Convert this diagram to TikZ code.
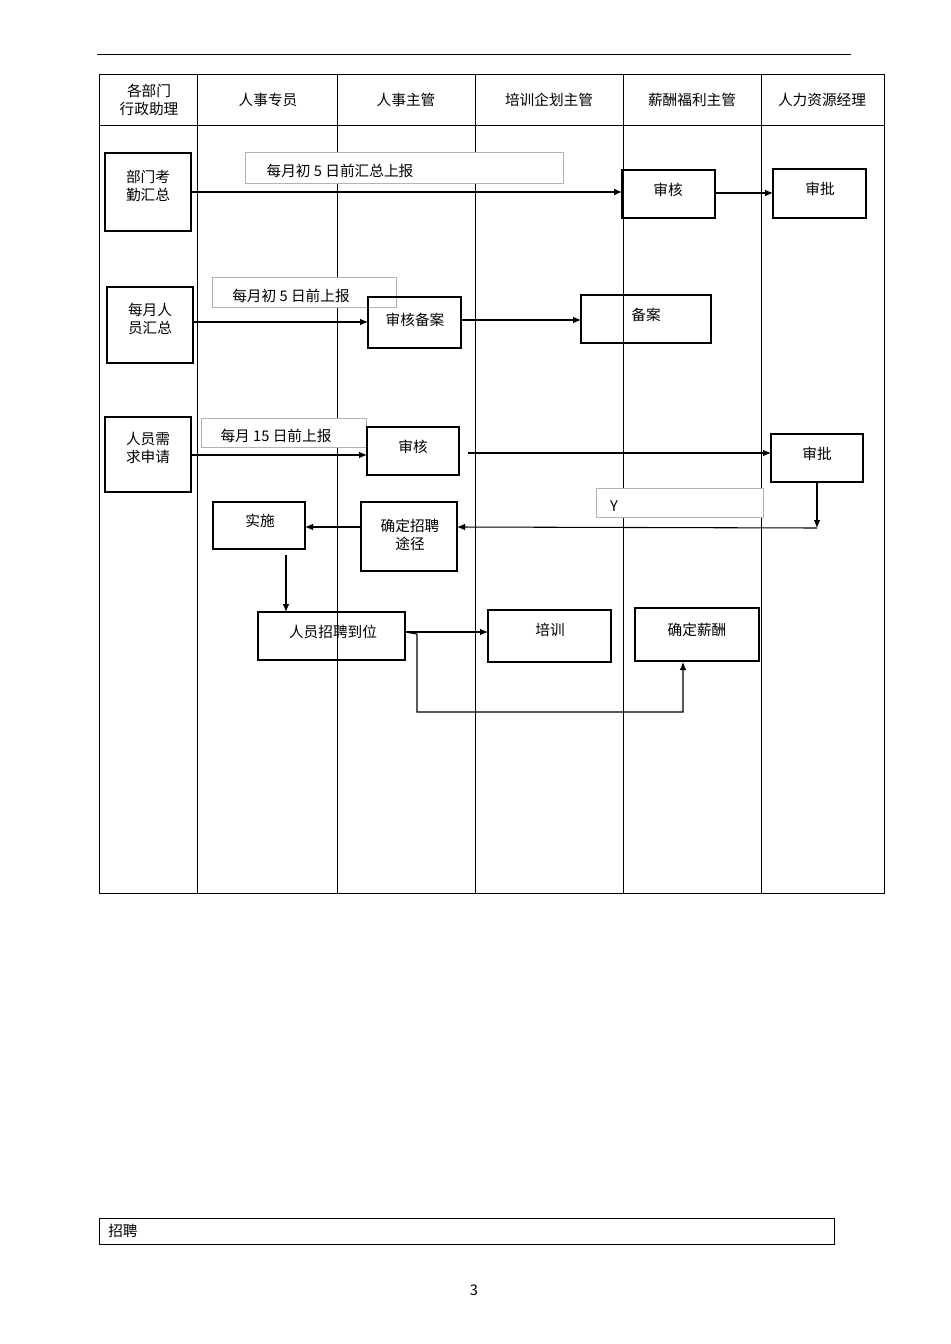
\documentclass[tikz,border=0pt]{standalone}
\usepackage{fontspec}
\setmainfont{Noto Sans CJK SC}
\usetikzlibrary{arrows.meta}
\begin{document}
\begin{tikzpicture}[x=0.75pt,y=-0.75pt,
  box/.style={draw,line width=0.8pt},
  lbl/.style={draw=gray!60,line width=0.5pt},
  t/.style={font=\fontsize{11pt}{14pt}\selectfont,align=center,inner sep=0pt},
  arr/.style={-{Latex[length=6pt,width=5pt]},line width=0.8pt}]
\useasboundingbox (0,0) rectangle (950,1344);
\draw[line width=0.6pt] (97,54) -- (851,54);
% table
\draw[line width=0.6pt] (99,74) rectangle (884,893);
\draw[line width=0.6pt] (99,125) -- (884,125);
\foreach \x in {197,337,475,623,761}{\draw[line width=0.6pt] (\x,74) -- (\x,893);}
\node[t] (h1) at (149,100) {各部门\\行政助理};
\node[t] (h2) at (268,100) {人事专员};
\node[t] (h3) at (406,100) {人事主管};
\node[t] (h4) at (549,100) {培训企划主管};
\node[t] (h5) at (692,100) {薪酬福利主管};
\node[t] (h6) at (822,100) {人力资源经理};
% row 1
\draw[box] (105,153) rectangle (191,231); \node[t] (a1) at (148,186) {部门考\\勤汇总};
\coordinate (a1r) at (191,192);
\draw[lbl,fill=white] (245,152) rectangle (563,183); \node[t] (l1) at (340,171) {每月初 5 日前汇总上报};
\draw[box] (622,170) rectangle (715,218); \node[t] (b1) at (668,190) {审核};
\coordinate (b1l) at (622,192); \coordinate (b1r) at (715,193);
\draw[box] (773,169) rectangle (866,218); \node[t] (c1) at (820,189) {审批};
\coordinate (c1l) at (773,193);
\draw[arr] (a1r) -- (b1l);
\draw[arr] (b1r) -- (c1l);
% row 2
\draw[box] (107,287) rectangle (193,363); \node[t] (a2) at (150,319) {每月人\\员汇总};
\coordinate (a2r) at (193,322);
\draw[lbl,fill=white] (212,277) rectangle (396,307); \node[t] (l2) at (291,296) {每月初 5 日前上报};
\draw[box] (368,297) rectangle (461,348); \node[t] (b2) at (415,320) {审核备案};
\coordinate (b2l) at (368,322); \coordinate (b2r) at (461,320);
\draw[box] (581,295) rectangle (711,343); \node[t] (c2) at (646,315) {备案};
\coordinate (c2l) at (581,320);
\draw[arr] (a2r) -- (b2l);
\draw[arr] (b2r) -- (c2l);
% row 3
\draw[box] (105,417) rectangle (191,492); \node[t] (a3) at (148,448) {人员需\\求申请};
\coordinate (a3r) at (191,455);
\draw[lbl,fill=white] (201,418) rectangle (366,447); \node[t] (l3) at (276,436) {每月 15 日前上报};
\draw[box] (367,427) rectangle (459,475); \node[t] (b3) at (413,447) {审核};
\coordinate (b3l) at (367,455); \coordinate (b3r) at (468,453);
\draw[box] (771,434) rectangle (863,482); \node[t] (c3) at (817,454) {审批};
\coordinate (c3l) at (771,453); \coordinate (c3b) at (817,482); \coordinate (c3d) at (817,528);
\draw[arr] (a3r) -- (b3l);
\draw[arr] (b3r) -- (c3l);
\draw[lbl,fill=white] (596,488) rectangle (763,517); \node[t] (y) at (614,506) {Y};
\draw[arr] (c3b) -- (c3d);
% row 4
\draw[box] (361,502) rectangle (457,571); \node[t] (d) at (410,535) {确定招聘\\途径};
\coordinate (dr) at (457,527); \coordinate (dl) at (361,527);
\draw[arr] (c3d) -- (dr);
\draw[box] (213,502) rectangle (305,549); \node[t] (e) at (260,521) {实施};
\coordinate (er) at (305,527); \coordinate (eb) at (286,555);
\draw[arr] (dl) -- (er);
\draw[box] (258,612) rectangle (405,660); \node[t] (f) at (333,632) {人员招聘到位};
\coordinate (ft) at (286,612); \coordinate (fr) at (405,632);
\draw[arr] (eb) -- (ft);
\draw[box] (488,610) rectangle (611,662); \node[t] (g) at (550,630) {培训};
\coordinate (gl) at (488,632);
\draw[box] (635,608) rectangle (759,661); \node[t] (h) at (697,630) {确定薪酬};
\coordinate (hb) at (683,662);
\draw[arr] (fr) -- (gl);
\draw[arr] (fr) -- (417,634) -- (417,712) -- (683,712) -- (hb);
% footer
\draw[line width=0.6pt] (99,1218) rectangle (834,1244);
\node[t,anchor=west] (zp) at (108,1231) {招聘};
\node[t] (pg) at (474,1290) {3};
\end{tikzpicture}
\end{document}
